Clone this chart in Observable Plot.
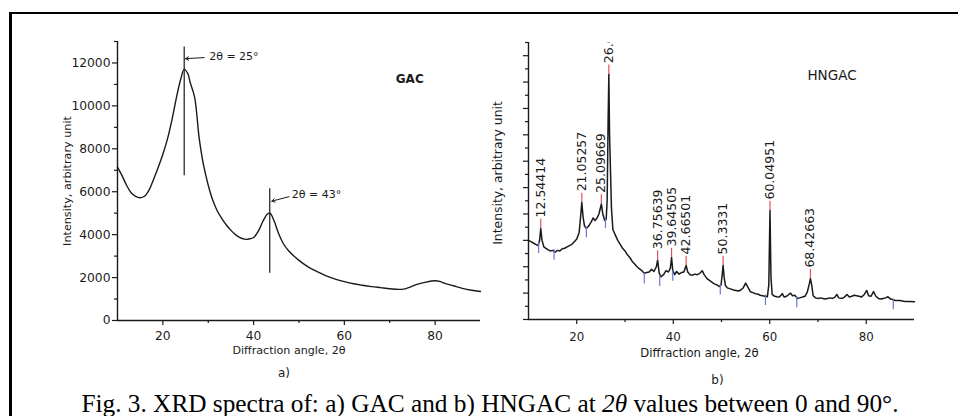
<!DOCTYPE html>
<html>
<head>
<meta charset="utf-8">
<script src="https://cdn.jsdelivr.net/npm/d3@7"></script>
<script src="https://cdn.jsdelivr.net/npm/@observablehq/plot@0.6"></script>
<style>
  html, body { margin: 0; padding: 0; background: #fff; }
  #wrap { position: relative; width: 958px; height: 416px; overflow: hidden; background: #fff; }
  #frame { position: absolute; left: 9px; top: 12px; width: 1000px; height: 500px; border-left: 3px solid #000; border-top: 2.5px solid #000; }
  .chart { position: absolute; top: 0; }
  #caption { position: absolute; left: 32px; width: 916px; top: 389px; text-align: center; font-family: "Liberation Serif", "Times New Roman", serif; font-size: 25.3px; line-height: 1.15; color: #000; white-space: nowrap; }
  #left g[aria-label="x-axis tick label"] text, #left g[aria-label="y-axis tick label"] text { font-size: 12.3px; }
  #right g[aria-label="x-axis tick label"] text { font-size: 11.8px; }
</style>
</head>
<body>
<div id="wrap">
  <div id="frame"></div>
  <div id="left" class="chart" style="left:0px"></div>
  <div id="right" class="chart" style="left:470px"></div>
  <div id="caption">Fig. 3. XRD spectra of: a) GAC and b) HNGAC at <i>2θ</i> values between 0 and 90°.</div>
</div>
<script>
// ---------- data ----------
const gacAngle = [10, 11, 12, 13, 14, 15, 16, 17, 18, 19, 20, 21, 22, 23, 24, 24.7, 25.5, 26, 27, 28, 29, 30, 31, 32, 33, 34, 35, 36, 37, 38, 38.5, 39, 40, 41, 42, 43, 43.6, 44.5, 45.5, 46.5, 47.7, 50, 52, 54, 56, 58, 60, 62, 64, 66, 68, 70, 72, 73, 74, 76, 78, 80, 81, 82, 84, 86, 88, 90];
const gacIntensity = [7150, 6750, 6300, 5950, 5780, 5720, 5800, 6100, 6600, 7150, 7750, 8450, 9350, 10400, 11300, 11700, 11500, 11100, 10400, 8500, 7200, 6300, 5600, 5100, 4750, 4450, 4200, 4000, 3860, 3790, 3780, 3800, 3870, 4150, 4600, 4950, 5000, 4650, 4050, 3600, 3250, 2800, 2500, 2280, 2080, 1930, 1810, 1710, 1640, 1580, 1530, 1480, 1450, 1460, 1520, 1680, 1790, 1850, 1820, 1740, 1620, 1500, 1410, 1350];

const hngacAngle = [10, 10.5, 11, 11.5, 12, 12.3, 12.54, 12.8, 13.2, 13.6, 14, 14.5, 15, 15.5, 16, 16.5, 17, 17.5, 18, 18.5, 19, 19.5, 20, 20.5, 20.8, 21.05, 21.3, 21.6, 22, 22.5, 23, 23.4, 23.8, 24.2, 24.6, 25.1, 25.4, 25.8, 26.1, 26.3, 26.5, 26.65, 26.8, 27.0, 27.2, 27.5, 28, 28.5, 29, 29.5, 30, 30.5, 31, 31.5, 32, 32.5, 33, 33.5, 34, 34.5, 35, 35.5, 36, 36.5, 36.76, 37.1, 37.5, 38, 38.5, 39, 39.4, 39.65, 39.9, 40.3, 40.7, 41.2, 41.7, 42.2, 42.67, 43, 43.5, 44, 44.5, 45, 45.5, 46, 46.4, 47, 47.5, 48, 48.5, 49, 49.5, 49.9, 50.15, 50.33, 50.55, 50.8, 51.2, 52, 52.5, 53, 53.5, 54, 54.5, 55, 55.4, 56, 56.5, 57, 57.5, 58, 58.5, 59, 59.5, 59.8, 60.05, 60.25, 60.5, 61, 61.5, 62, 62.6, 63, 63.5, 64.3, 64.7, 65.2, 65.7, 66.2, 66.8, 67.3, 67.8, 68.2, 68.43, 68.7, 69, 69.5, 70, 70.5, 71, 71.5, 72, 72.5, 73, 73.5, 73.9, 74.3, 75, 75.5, 76, 76.5, 77, 77.5, 78, 78.5, 79, 79.6, 80.1, 80.5, 81, 81.5, 82, 82.5, 83, 83.5, 84, 84.5, 85, 85.5, 86, 87, 88, 89, 90];
const hngacIntensity = [3.0, 2.95, 2.9, 2.85, 2.8, 3.0, 3.45, 3.0, 2.75, 2.7, 2.65, 2.6, 2.62, 2.55, 2.62, 2.6, 2.68, 2.7, 2.75, 2.8, 2.85, 2.95, 3.05, 3.3, 3.9, 4.44, 3.9, 3.55, 3.45, 3.55, 3.7, 3.85, 3.75, 3.85, 4.0, 4.38, 4.0, 3.75, 3.8, 4.5, 7.5, 9.3, 7.0, 5.6, 4.2, 3.4, 3.2, 3.0, 2.85, 2.7, 2.6, 2.45, 2.35, 2.2, 2.1, 2.0, 1.92, 1.85, 1.75, 1.78, 1.8, 1.9, 1.82, 2.0, 2.25, 1.75, 1.62, 1.7, 1.85, 1.8, 1.95, 2.35, 1.85, 1.7, 1.82, 1.72, 1.78, 1.8, 2.05, 1.8, 1.7, 1.68, 1.72, 1.7, 1.75, 1.85, 1.7, 1.55, 1.48, 1.42, 1.35, 1.32, 1.25, 1.3, 1.7, 2.05, 1.6, 1.3, 1.2, 1.15, 1.12, 1.1, 1.08, 1.12, 1.2, 1.38, 1.25, 1.05, 1.02, 0.98, 0.97, 0.92, 0.9, 0.88, 0.86, 1.3, 4.13, 1.6, 0.95, 0.88, 0.86, 0.85, 0.98, 0.85, 0.88, 1.0, 0.9, 0.92, 0.8, 0.82, 0.85, 0.88, 1.05, 1.35, 1.55, 1.3, 0.9, 0.82, 0.8, 0.82, 0.8, 0.78, 0.8, 0.82, 0.8, 0.85, 0.95, 0.82, 0.8, 0.85, 0.95, 0.85, 0.88, 0.92, 0.9, 0.88, 0.85, 0.95, 1.1, 0.9, 0.88, 1.06, 0.88, 0.8, 0.78, 0.8, 0.82, 0.86, 0.78, 0.76, 0.72, 0.72, 0.68, 0.68, 0.67];

const peakAngle = [12.54, 21.05, 25.1, 26.65, 36.76, 39.65, 42.67, 50.33, 60.05, 68.43];
const peakValue = [3.45, 4.44, 4.38, 9.3, 2.25, 2.35, 2.05, 2.05, 4.13, 1.55];
const peakLabel = ["12.54414", "21.05257", "25.09669", "26.6", "36.75639", "39.64505", "42.66501", "50.3331", "60.04951", "68.42663"];

const valleyAngle = [12.1, 15.3, 22.0, 25.95, 34.0, 37.2, 39.9, 49.75, 59.1, 65.6, 85.6];
const valleyValue = [2.85, 2.6, 3.45, 3.8, 1.7, 1.6, 1.8, 1.28, 0.88, 0.8, 0.72];

const xMajorTicks = [20, 40, 60, 80];
const xMinorTicks = [30, 50, 70];
const gacYMajorTicks = [0, 2000, 4000, 6000, 8000, 10000, 12000];
const gacYMinorTicks = [1000, 3000, 5000, 7000, 9000, 11000, 13000];
const hngacYMajorTicks = [0, 1, 2, 3, 4, 5, 6, 7, 8, 9, 10];
const hngacYMinorTicks = [0.5, 1.5, 2.5, 3.5, 4.5, 5.5, 6.5, 7.5, 8.5, 9.5, 10.5];

// annotations of chart a)
const gacMarkAngle = [24.7, 43.55];
const gacMarkFrom = [6744, 2200];
const gacMarkTo = [12744, 6140];
const gacMarkText = ["2θ = 25°", "2θ = 43°"];

// ---------- build tables ----------
const gac = gacAngle.map((a, i) => ({a, v: gacIntensity[i]}));
const hngac = hngacAngle.map((a, i) => ({a, v: hngacIntensity[i]}));
const peaks = peakAngle.map((a, i) => ({a, v: peakValue[i], label: peakLabel[i]}));
const valleys = valleyAngle.map((a, i) => ({a, v: valleyValue[i]}));
const gacMarks = gacMarkAngle.map((a, i) => ({a, y1: gacMarkFrom[i], y2: gacMarkTo[i]}));
const gacArrows = [
  {x1: 29.1, y1: 12250, x2: 25.0, y2: 12200},
  {x1: 47.8, y1: 5770, x2: 44.0, y2: 5560}
];
const gacTexts = [
  {x: 30.2, y: 12280, t: gacMarkText[0]},
  {x: 48.4, y: 5880, t: gacMarkText[1]}
];

const font = "DejaVu Sans, Liberation Sans, Arial, sans-serif";
const ink = "#1a1a1a";

const left = Plot.plot({
  width: 490, height: 390,
  marginLeft: 117, marginRight: 10, marginTop: 41, marginBottom: 70,
  x: {domain: [10, 90]},
  y: {domain: [0, 13000]},
  style: {fontFamily: font, fontSize: "12px", color: ink, background: "transparent", overflow: "visible"},
  marks: [
    Plot.axisX({ticks: xMajorTicks, tickSize: 5, tickPadding: 6, fontSize: 12.3, tickFormat: d => String(d), label: null, strokeWidth: 1.2}),
    Plot.axisX({ticks: xMinorTicks, tickSize: 3, tickFormat: () => "", label: null, strokeWidth: 1.2}),
    Plot.axisY({ticks: gacYMajorTicks, tickSize: 5, tickPadding: 2, fontSize: 12.3, tickFormat: d => String(d), label: null, strokeWidth: 1.2}),
    Plot.axisY({ticks: gacYMinorTicks, tickSize: 3, tickFormat: () => "", label: null, strokeWidth: 1.2}),
    Plot.ruleX([10], {stroke: ink, strokeWidth: 1.4}),
    Plot.ruleY([0], {stroke: ink, strokeWidth: 1.4}),
    Plot.line(gac, {x: "a", y: "v", stroke: ink, strokeWidth: 1.4, curve: "catmull-rom"}),
    Plot.ruleX(gacMarks, {x: "a", y1: "y1", y2: "y2", stroke: ink, strokeWidth: 1.2}),
    Plot.arrow(gacArrows, {x1: "x1", y1: "y1", x2: "x2", y2: "y2", stroke: ink, strokeWidth: 1, headLength: 5}),
    Plot.text(gacTexts, {x: "x", y: "y", text: "t", textAnchor: "start", fontSize: 11, fill: ink}),
    Plot.text(["GAC"], {x: 74.4, y: 11250, text: d => d, fontSize: 12, fontWeight: "bold", fill: ink}),
    Plot.text(["Intensity, arbitrary unit"], {frameAnchor: "left", textAnchor: "middle", lineAnchor: "middle", text: d => d, rotate: -90, dx: -50, dy: 0, fontSize: 11.2, fill: ink}),
    Plot.text(["Diffraction angle, 2θ"], {frameAnchor: "bottom", textAnchor: "middle", lineAnchor: "middle", text: d => d, dx: -10, dy: 30, fontSize: 11.1, fill: ink}),
    Plot.text(["a)"], {frameAnchor: "bottom", textAnchor: "middle", lineAnchor: "middle", text: d => d, dx: -15, dy: 53, fontSize: 12, fill: ink})
  ]
});
document.getElementById("left").append(left);

const red = "#e2525c";
const blue = "#6c78d6";
const right = Plot.plot({
  width: 488, height: 390,
  marginLeft: 58, marginRight: 44, marginTop: 42, marginBottom: 71,
  x: {domain: [10, 90]},
  y: {domain: [0, 10.5]},
  style: {fontFamily: font, fontSize: "12px", color: ink, background: "transparent", overflow: "visible"},
  marks: [
    Plot.axisX({ticks: xMajorTicks, tickSize: 5, tickPadding: 8, fontSize: 11.8, tickFormat: d => String(d), label: null, strokeWidth: 1.2}),
    Plot.axisX({ticks: xMinorTicks, tickSize: 3, tickFormat: () => "", label: null, strokeWidth: 1.2}),
    Plot.axisY({ticks: hngacYMajorTicks, tickSize: 5, tickFormat: () => "", label: null, strokeWidth: 1.2}),
    Plot.axisY({ticks: hngacYMinorTicks, tickSize: 3, tickFormat: () => "", label: null, strokeWidth: 1.2}),
    Plot.ruleX([10], {stroke: ink, strokeWidth: 1.4}),
    Plot.ruleY([0], {stroke: ink, strokeWidth: 1.4}),
    Plot.line(hngac, {x: "a", y: "v", stroke: ink, strokeWidth: 1.5}),
    Plot.ruleX(peaks, {x: "a", y1: "v", y2: d => d.v + 0.35, stroke: red, strokeWidth: 1.2}),
    Plot.ruleX(valleys, {x: "a", y1: d => d.v + 0.05, y2: d => d.v - 0.35, stroke: blue, strokeWidth: 1.2}),
    Plot.text(peaks, {x: "a", y: "v", text: "label", rotate: -90, textAnchor: "start", dy: -11, fontSize: 12.5, fill: ink, clip: true}),
    Plot.text(["HNGAC"], {x: 72.9, y: 9.25, text: d => d, fontSize: 13.5, fill: ink}),
    Plot.text(["Intensity, arbitrary unit"], {frameAnchor: "left", textAnchor: "middle", lineAnchor: "middle", text: d => d, rotate: -90, dx: -30, dy: -8, fontSize: 12.4, fill: ink}),
    Plot.text(["Diffraction angle, 2θ"], {frameAnchor: "bottom", textAnchor: "middle", lineAnchor: "middle", text: d => d, dx: -22, dy: 34, fontSize: 11.6, fill: ink}),
    Plot.text(["b)"], {frameAnchor: "bottom", textAnchor: "middle", lineAnchor: "middle", text: d => d, dx: -4, dy: 61, fontSize: 12, fill: ink})
  ]
});
document.getElementById("right").append(right);
</script>
</body>
</html>
